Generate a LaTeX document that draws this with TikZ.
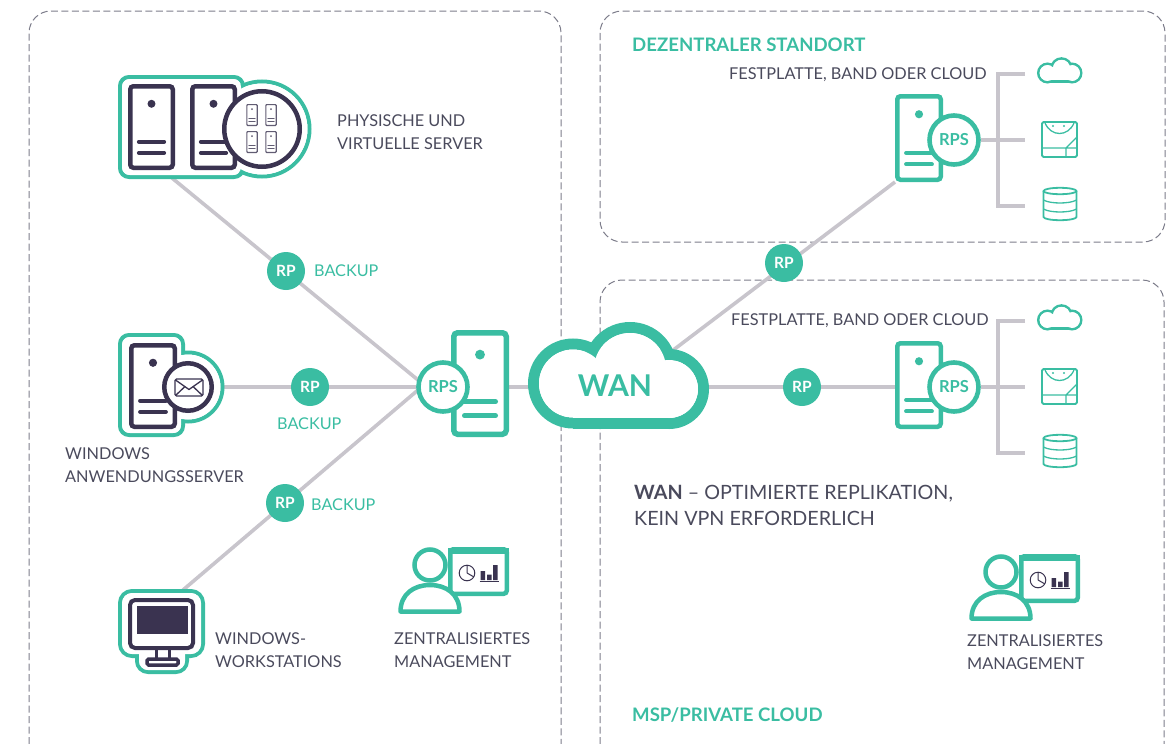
\documentclass[tikz,border=0pt]{standalone}
\usepackage{fontspec}
\setmainfont{Lato}
\usetikzlibrary{backgrounds,calc}
\definecolor{teal}{HTML}{3ABDA2}
\definecolor{darkc}{HTML}{3A3350}
\definecolor{linkc}{HTML}{C8C5CC}
\definecolor{textc}{HTML}{4A4A5C}
\definecolor{dashc}{HTML}{7C7C8A}
\tikzset{
  panel/.style={draw=dashc,line width=1pt,dash pattern=on 7pt off 3.5pt,rounded corners=22pt},
  link/.style={draw=linkc,line width=3.6pt},
  rpdot/.style={circle,fill=teal,text=white,inner sep=0pt,minimum size=38pt,font=\fontsize{15.5}{15.5}\selectfont\bfseries},
  rpsring/.style={circle,draw=teal,fill=white,text=teal,inner sep=0pt,minimum size=49pt,line width=4.6pt,font=\fontsize{16.5}{16.5}\selectfont\bfseries},
  lbl/.style={anchor=west,align=left,inner sep=0pt,text=textc,font=\fontsize{16.3}{23}\selectfont},
  backup/.style={anchor=west,inner sep=0pt,text=teal,font=\fontsize{16.2}{16.2}\selectfont},
  title/.style={anchor=west,inner sep=0pt,text=teal,font=\fontsize{18.6}{18.6}\selectfont\bfseries},
  thinteal/.style={draw=teal,line width=1.3pt,line join=round},
}
\newcommand{\lowered}[1]{\raisebox{-1.3pt}{#1}}
% name, colour, centre x, centre y, width, height, line width
\newcommand{\srvIcon}[7]{%
  \begin{scope}[shift={(#3,#4)}]
    \node[draw=#2,fill=white,line width=#7pt,rounded corners={#7*.7pt},inner sep=0pt,
      minimum width={(#5-#7)*1pt},minimum height={(#6-#7)*1pt}] (#1) at (0,0) {};
    \fill[#2] (0,{-.27*#6}) circle ({.085*#5});
    \draw[#2,line width={#7*.85pt},line cap=round] ({-.27*#5},{.17*#6}) -- ({.27*#5},{.17*#6});
    \draw[#2,line width={#7*.85pt},line cap=round] ({-.27*#5},{.30*#6}) -- ({.27*#5},{.30*#6});
  \end{scope}}
% prefix, vertical shift
\newcommand{\siteIcons}[2]{%
  \begin{scope}[shift={(0,#2)}]
    \srvIcon{#1srv}{teal}{919}{138}{48}{88}{4.5}
    \node[rpsring] (#1rps) at (954,140) {\lowered{RPS}};
    \coordinate (#1top) at (1025,74);
    \coordinate (#1mid) at (1025,140);
    \coordinate (#1low) at (1025,206);
    \coordinate (#1spineA) at (998,74);
    \coordinate (#1spineB) at (998,206);
    \begin{pgfonlayer}{background}
      \draw[link,line join=miter] (#1top) -- (#1spineA) -- (#1spineB) -- (#1low);
      \draw[link] (#1rps) -- (#1mid);
    \end{pgfonlayer}
    % cloud
    \draw[teal,line width=2.6pt] (1047.5,73) circle (9.2);
    \draw[teal,line width=2.6pt] (1061.5,68.5) circle (10);
    \draw[teal,line width=2.6pt] (1072,73) circle (9.2);
    \draw[teal,line width=2.6pt] (1047.5,81.7) -- (1072,81.7);
    \fill[white] (1047.5,73) circle (7.9);
    \fill[white] (1061.5,68.5) circle (8.7);
    \fill[white] (1072,73) circle (7.9);
    \fill[white] (1047.5,70) rectangle (1072,80.4);
    % tape box
    \draw[thinteal,line width=1.8pt,rounded corners=1.5pt] (1042,122) rectangle (1077,157);
    \draw[thinteal] (1045,123) .. controls (1051,137) and (1068,137) .. (1074,123);
    \fill[teal] (1053,126) circle (1.1) (1064,126) circle (1.1);
    \draw[thinteal] (1042,148) -- (1077,148) (1066,148) -- (1066,157) (1066,148) -- (1077,137);
    % drum
    \draw[thinteal,line width=1.8pt] (1043.5,191) -- (1043.5,217) arc[start angle=180,end angle=360,x radius=16.5,y radius=-3.2] -- (1076.5,191);
    \draw[thinteal,line width=1.8pt] (1060,191) ellipse [x radius=16.5,y radius=3.2];
    \draw[thinteal] (1043.5,200) .. controls (1050,204) and (1070,204) .. (1076.5,200);
    \draw[thinteal] (1043.5,209) .. controls (1050,213) and (1070,213) .. (1076.5,209);
  \end{scope}}
\newcommand{\mgmtIcon}[3]{%
  \begin{scope}[shift={(#2,#3)}]
    \node[draw=teal,fill=white,line width=4.5pt,rounded corners=3pt,inner sep=0pt,minimum width=56.5pt,minimum height=44.5pt] (#1) at (478.5,571.5) {};
    \fill[teal] (448,548) rectangle (509,554);
    \draw[darkc,line width=1pt,fill=white] (467,573) circle (7.8);
    \draw[darkc,line width=1pt] (467,573) -- (467,565.2) (467,573) -- (474,577);
    \fill[darkc] (480.5,571) rectangle (485,580) (487,574.5) rectangle (491.5,580) (493,565) rectangle (497.5,580);
    \draw[darkc,line width=1pt] (479.5,581.5) -- (499,581.5);
    \draw[teal,line width=4.5pt,fill=white,line join=round] (400.5,611.5) .. controls (400.5,594) and (414,585) .. (430,585)
       .. controls (446,585) and (459.5,594) .. (459.5,611.5) -- cycle;
    \draw[teal,line width=4.5pt,fill=white] (430,565) circle (15.5);
  \end{scope}}
\begin{document}
\begin{tikzpicture}[x=1pt,y=-1pt]
\useasboundingbox (0,0) rectangle (1167,744);
% ---------- hub and free connector ends
\coordinate (groupEnd) at (172,178);
\coordinate (mailEnd) at (222,387);
\coordinate (stationEnd) at (183,590);
\coordinate (hubUp) at (418,380);
\coordinate (hubMid) at (418,387);
\coordinate (hubLow) at (418,390);
\coordinate (rpsEast) at (508,387);
\coordinate (wanWest) at (530,387);
\coordinate (wanEast) at (707,387);
\coordinate (wanNE) at (672,351);
% ---------- panels
\begin{pgfonlayer}{background}
  \draw[panel] (29,744) -- (29,11) -- (561,11) -- (561,744);
  \draw[panel] (600,11) rectangle (1165,242);
  \draw[panel] (600,744) -- (600,280) -- (1164,280) -- (1164,744);
\end{pgfonlayer}
% ---------- physical + virtual servers
\draw[teal,line width=4pt,rounded corners=9pt] (120,77) rectangle (243,177);
\draw[teal,line width=4pt] (262,129) circle (47.5);
\fill[white,rounded corners=8pt] (122,79) rectangle (241,175);
\fill[white] (262,129) circle (45.5);
\srvIcon{groupA}{darkc}{151.5}{127}{47}{86}{4.5}
\srvIcon{groupB}{darkc}{213.5}{127}{47}{86}{4.5}
\node[circle,draw=darkc,fill=white,line width=4.5pt,inner sep=0pt,minimum size=75.5pt] (groupV) at (262,129) {};
\srvIcon{miniA}{darkc!80!white}{252}{115}{11.5}{22}{1.2}
\srvIcon{miniB}{darkc!80!white}{271}{115}{11.5}{22}{1.2}
\srvIcon{miniC}{darkc!80!white}{252}{142}{11.5}{22}{1.2}
\srvIcon{miniD}{darkc!80!white}{271}{142}{11.5}{22}{1.2}
% ---------- mail server
\draw[teal,line width=4pt,rounded corners=9pt] (120,335) rectangle (183,435);
\draw[teal,line width=4pt] (188,387) circle (34.5);
\fill[white,rounded corners=8pt] (122,337) rectangle (181,433);
\fill[white] (188,387) circle (32.5);
\srvIcon{mailSrv}{darkc}{153}{386}{48}{86}{4.5}
\node[circle,draw=darkc,fill=white,line width=4.5pt,inner sep=0pt,minimum size=47.5pt] (mailRing) at (188,387) {};
\draw[darkc,line width=1.3pt,rounded corners=1.5pt,line join=round] (175,379) rectangle (203,396);
\draw[darkc,line width=1.3pt,line join=round] (175.5,380) -- (189,389.5) -- (202.5,380) (175.5,395.5) -- (185,386.5) (202.5,395.5) -- (193,386.5);
% ---------- workstation
\draw[teal,line width=4pt,rounded corners=12pt] (120,591) rectangle (203,656);
\draw[teal,line width=4pt,rounded corners=11pt] (137,640) rectangle (187,672);
\fill[white,rounded corners=10pt] (122,593) rectangle (201,654);
\fill[white,rounded corners=9pt] (139,640) rectangle (185,670);
\node[draw=darkc,fill=white,line width=4pt,rounded corners=5pt,inner sep=0pt,minimum width=63pt,minimum height=48pt] (station) at (161.5,624) {};
\fill[darkc] (136.5,606) rectangle (187.5,634);
\draw[darkc,line width=3pt] (156,650) -- (156,659) (169,650) -- (169,659);
\draw[darkc,line width=3.5pt,rounded corners=1.5pt,fill=white] (147,659) rectangle (178,665);
% ---------- connectors on the left
\node[rpdot] (rpA) at (286,271) {\lowered{RP}};
\node[rpdot] (rpB) at (310,387) {\lowered{RP}};
\node[rpdot] (rpC) at (285,503) {\lowered{RP}};
\srvIcon{hubSrv}{teal}{480}{383.5}{58}{107}{5.5}
\node[rpsring,minimum size=49pt] (hubRps) at (443,387) {\lowered{RPS}};
% ---------- WAN cloud
\draw[teal,line width=11pt] (573,383.5) circle (39.5);
\draw[teal,line width=11pt] (630,369) circle (41.5);
\draw[teal,line width=11pt] (669,389) circle (34.5);
\draw[teal,line width=11pt] (573,423.5) -- (669,423.5);
\fill[white] (573,383.5) circle (34);
\fill[white] (630,369) circle (36);
\fill[white] (669,389) circle (29);
\fill[white] (573,380) rectangle (669,418);
\node[inner sep=0pt,text=teal,font=\fontsize{30}{30}\selectfont\bfseries] (wan) at (615,386) {WAN};
% ---------- remote sites
\siteIcons{top}{0}
\siteIcons{low}{247}
\node[rpdot] (rpD) at (784,263) {\lowered{RP}};
\node[rpdot] (rpE) at (802,387) {\lowered{RP}};
\begin{pgfonlayer}{background}
  \draw[link] (groupEnd) -- (hubUp);
  \draw[link] (mailEnd) -- (hubMid);
  \draw[link] (stationEnd) -- (hubLow);
  \draw[link] (rpsEast) -- (wanWest);
  \draw[link] (wanNE) -- (topsrv.south west);
  \draw[link] (wanEast) -- (wanEast -| lowsrv.west);
\end{pgfonlayer}
% ---------- management
\mgmtIcon{mgmtL}{0}{0}
\mgmtIcon{mgmtR}{571}{7}
% ---------- text
\node[lbl] (tServers) at (337,131.7) {PHYSISCHE UND\\VIRTUELLE SERVER};
\node[lbl] (tApp) at (65,464.8) {WINDOWS\\ANWENDUNGSSERVER};
\node[lbl] (tWs) at (215,650) {WINDOWS-\\WORKSTATIONS};
\node[lbl] (tMgL) at (394,650.4) {ZENTRALISIERTES\\MANAGEMENT};
\node[lbl] (tMgR) at (967,652) {ZENTRALISIERTES\\MANAGEMENT};
\node[backup] (bA) at (314,270.6) {BACKUP};
\node[backup] (bB) at (277,423.6) {BACKUP};
\node[backup] (bC) at (311,504.6) {BACKUP};
\node[title] (tDez) at (632,44.8) {DEZENTRALER STANDORT};
\node[title] (tMsp) at (632,714.8) {MSP/PRIVATE CLOUD};
\node[lbl] (tF1) at (729,74.6) {FESTPLATTE, BAND ODER CLOUD};
\node[lbl] (tF2) at (731,320.8) {FESTPLATTE, BAND ODER CLOUD};
\node[lbl,font=\fontsize{19.7}{26.5}\selectfont] (tWan) at (634,505.6) {\textbf{WAN} – OPTIMIERTE REPLIKATION,\\KEIN VPN ERFORDERLICH};
\end{tikzpicture}
\end{document}
